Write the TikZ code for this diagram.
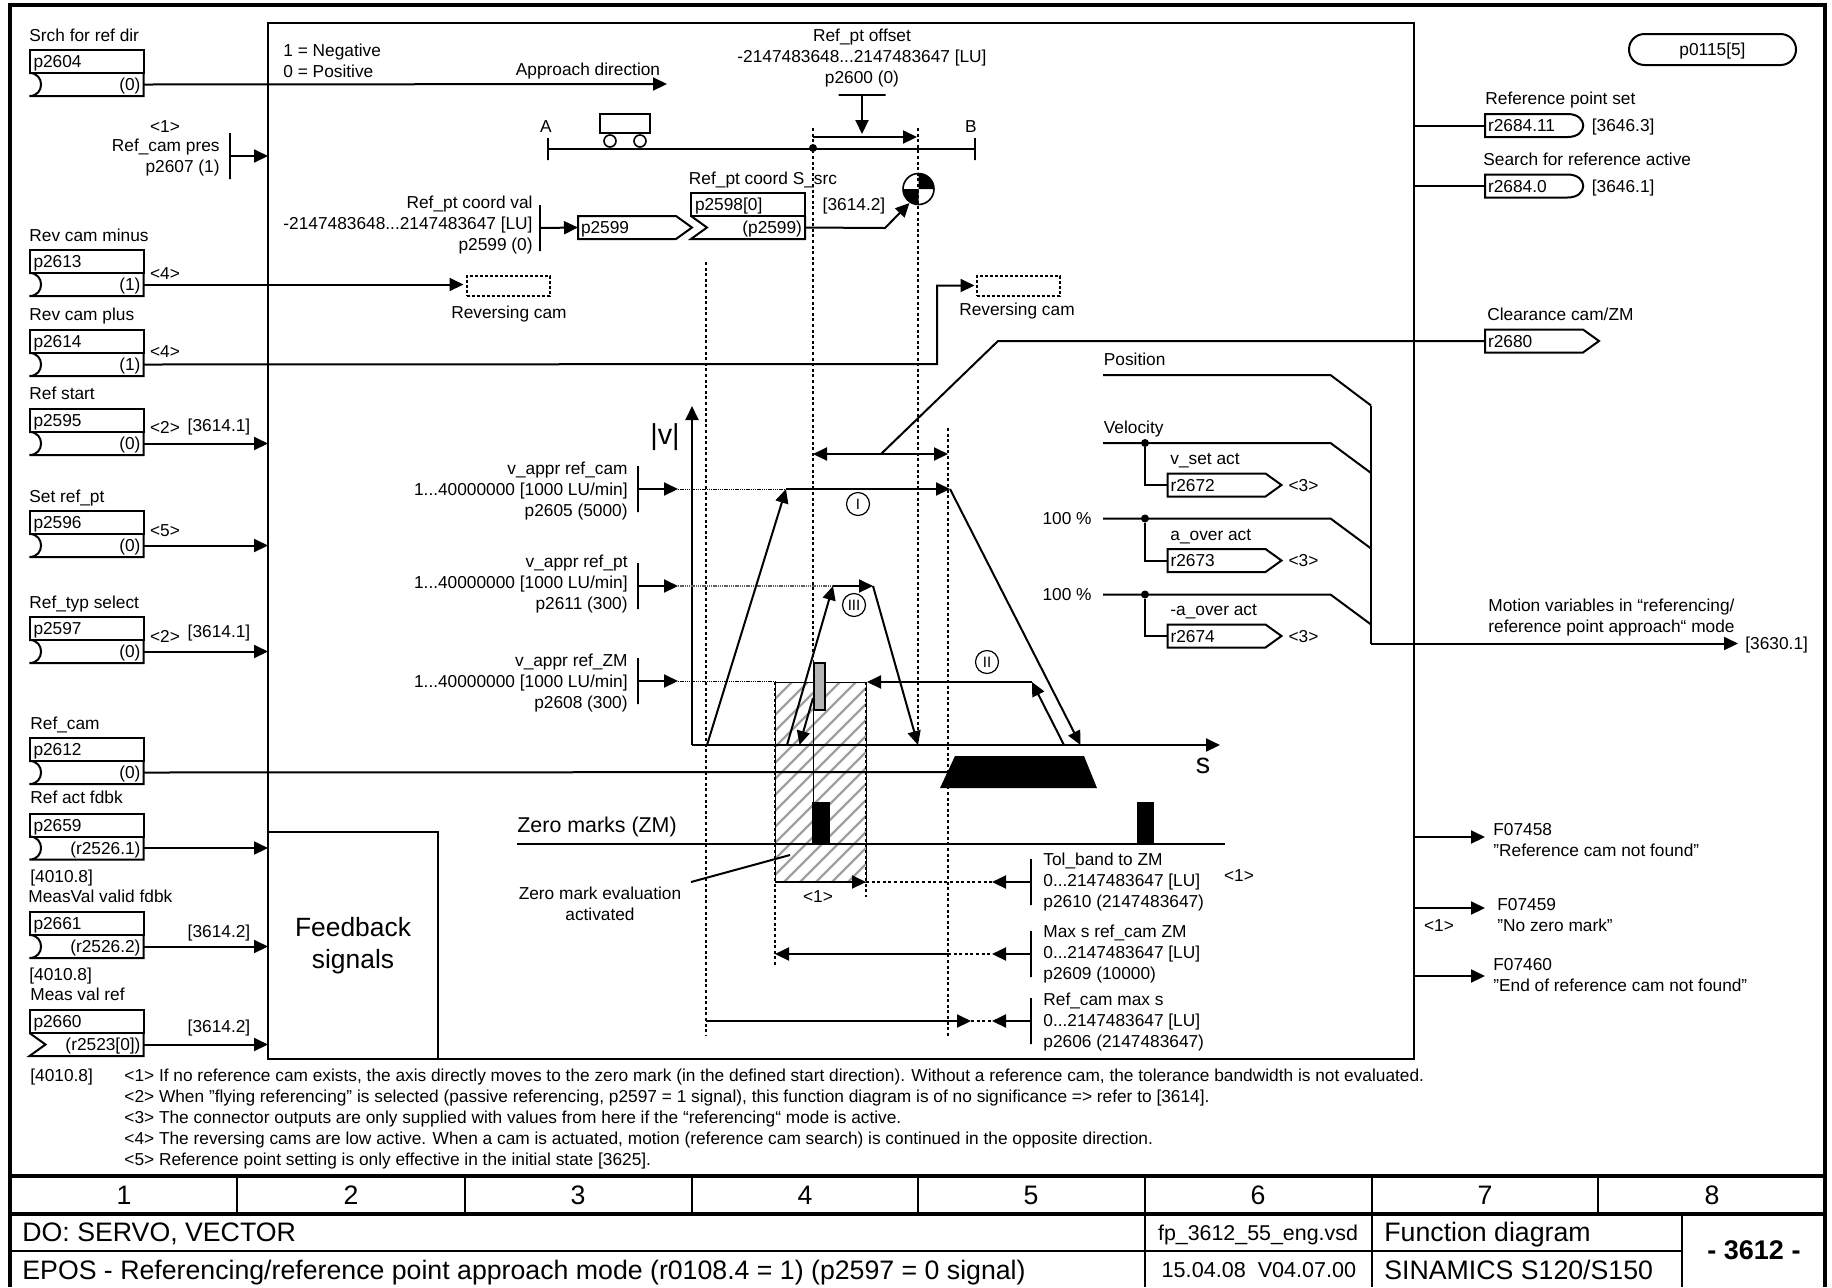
\documentclass[tikz,border=0pt]{standalone}
\usepackage{fontspec}
\setmainfont{Liberation Sans}
\usetikzlibrary{arrows.meta, positioning, calc}
\definecolor{hatchGray}{HTML}{A0A0A0}
\definecolor{barGray}{HTML}{B4B4B4}
\newcommand{\lblfont}{\fontsize{8.65}{10.5}\selectfont}
\newcommand{\inround}[1]{\draw[sig] (#1.north east) -- (#1.south east) -- (#1.south west)
  .. controls ([xshift=7.7pt]#1.south west) and ([xshift=7.7pt]#1.north west) .. (#1.north west);}
\newcommand{\inchev}[1]{\draw[sig] (#1.north east) -- (#1.south east) -- (#1.south west)
  -- ([xshift=8pt]#1.west) -- (#1.north west);}
\newcommand{\outsig}[1]{\draw[sig] (#1.south west) -- (#1.north west) -- ([xshift=-8pt]#1.north east)
  -- (#1.east) -- ([xshift=-8pt]#1.south east) -- cycle;}
\newcommand{\outcam}[1]{\draw[sig] (#1.south west) -- (#1.north west) -- ([xshift=-8pt]#1.north east)
  .. controls ([xshift=2.5pt]#1.north east) and ([xshift=2.5pt]#1.south east) .. ([xshift=-8pt]#1.south east) -- cycle;}
\tikzset{
  fp/.style = {font=\lblfont, x=0.5pt, y=-0.5pt},
  lbl/.style = {inner sep=0pt, text height=6.2pt, text depth=0pt},
  lbll/.style = {lbl, anchor=west},
  lblr/.style = {lbl, anchor=east},
  multir/.style = {inner sep=0pt, anchor=east, align=right},
  multil/.style = {inner sep=0pt, anchor=west, align=left},
  multic/.style = {inner sep=0pt, align=center},
  pbox/.style = {rectangle, draw, line width=1pt, minimum width=57pt, minimum height=11.5pt,
    inner xsep=2pt, inner ysep=0pt, text width=53pt, align=left, anchor=north west,
    text height=6.2pt, text depth=0pt, outer sep=0pt},
  pval/.style = {pbox, draw=none, align=right, inner xsep=1.5pt, text width=54pt},
  obox/.style = {rectangle, minimum width=57pt, minimum height=11.5pt, inner xsep=1.5pt, inner ysep=0pt,
    text width=54pt, align=left, anchor=west, text height=6.2pt, text depth=0pt, outer sep=0pt},
  ebox/.style = {obox, minimum width=49.25pt, text width=46.25pt},
  dashbox/.style = {rectangle, draw, line width=1pt, dash pattern=on 1.5pt off 1pt,
    minimum width=41.5pt, minimum height=10pt, inner sep=0pt, outer sep=0pt},
  frame/.style = {rectangle, draw, line width=1pt, inner sep=0pt, outer sep=0pt},
  tbar/.style = {rectangle, draw, line width=1pt, minimum width=0pt, minimum height=23pt, inner sep=0pt, outer sep=0pt},
  hbar/.style = {tbar, minimum width=23.5pt, minimum height=0pt},
  dotnode/.style = {circle, fill=black, minimum size=4pt, inner sep=0pt, outer sep=0pt},
  circ/.style = {circle, draw, line width=0.6pt, minimum size=11.5pt, inner sep=0pt, font=\fontsize{7.5}{8}\selectfont},
  sig/.style = {line width=1pt},
  thinl/.style = {line width=0.5pt},
  arr/.style = {sig, -{Triangle[length=7pt,width=6.5pt]}},
  darr/.style = {sig, {Triangle[length=7pt,width=6.5pt]}-{Triangle[length=7pt,width=6.5pt]}},
  guide/.style = {line width=0.8pt, dash pattern=on 1.5pt off 1.3pt},
  fine/.style = {line width=0.45pt, dash pattern=on 0.7pt off 0.4pt},
  tabl/.style = {line width=1.3pt},
  tabr/.style = {line width=2pt},
  tabt/.style = {inner sep=0pt, font=\fontsize{13.35}{15}\selectfont, text height=9.5pt, text depth=0pt},
  big/.style = {inner sep=0pt, font=\fontsize{14.4}{16}\selectfont},
}

\begin{document}
\begin{tikzpicture}[fp]
\useasboundingbox (0,0) rectangle (1832,1287);

% frame and title block
\draw[line width=1.6pt] (10,1287) -- (10,5) -- (1825,5) -- (1825,1287);
\draw[tabr] (10,1176) -- (1825,1176);
\draw[tabr] (10,1214) -- (1825,1214);
\draw[tabl] (10,1251) -- (1682,1251);
\draw[tabl] (237,1176) -- (237,1214);
\draw[tabl] (465,1176) -- (465,1214);
\draw[tabl] (692,1176) -- (692,1214);
\draw[tabl] (918,1176) -- (918,1214);
\draw[tabl] (1145,1176) -- (1145,1287);
\draw[tabl] (1372,1176) -- (1372,1287);
\draw[tabl] (1598,1176) -- (1598,1214);
\draw[tabl] (1682,1214) -- (1682,1287);
\node[tabt] (col1) at (124,1195) {1};
\node[tabt] (col2) at (351,1195) {2};
\node[tabt] (col3) at (578,1195) {3};
\node[tabt] (col4) at (805,1195) {4};
\node[tabt] (col5) at (1031,1195) {5};
\node[tabt] (col6) at (1258,1195) {6};
\node[tabt] (col7) at (1485,1195) {7};
\node[tabt] (col8) at (1712,1195) {8};
\node[tabt, anchor=west] (tdo) at (22,1232) {DO: SERVO, VECTOR};
\node[tabt, anchor=west] (tepos) at (22,1270) {EPOS - Referencing/reference point approach mode (r0108.4 = 1) (p2597 = 0 signal)};
\node[tabt, anchor=west] (tfn) at (1384,1232) {Function diagram};
\node[tabt, anchor=west] (tsin) at (1384,1270) {SINAMICS S120/S150};
\node[lbl, font=\fontsize{10.7}{12}\selectfont] (tfile) at (1258,1234) {fp\_3612\_55\_eng.vsd};
\node[lbl, font=\fontsize{10.8}{12}\selectfont] (tver) at (1259,1271) {15.04.08\ \ V04.07.00};
\node[lbl, font=\fontsize{13.5}{14}\selectfont\bfseries, text height=9.5pt] (tnum) at (1754,1250) {- 3612 -};

% main blocks
\node[frame, anchor=north west, minimum width=573pt, minimum height=518pt] (main) at (268,23) {};
\node[frame, anchor=south west, minimum width=85pt, minimum height=113.5pt, align=center,
  font=\fontsize{13.2}{16.3}\selectfont] (fdbk) at (268,1059) {Feedback\\signals};

% hatched window
\begin{scope}
  \clip (775,682) rectangle (866,882);
  \foreach \hx in {560,576,...,860}
    \draw[hatchGray, line width=1.2pt] (\hx,882) -- (\hx+200,682);
\end{scope}
\draw[thinl] (775,682) rectangle (866,882);

% guide lines
\draw[guide] (813,128) -- (813,660);
\draw[thinl] (813,660) -- (813,802);
\draw[guide] (918,128) -- (918,745);
\draw[guide] (706,262) -- (706,1036);
\draw[guide] (948,428) -- (948,1036);
\draw[guide] (775,682) -- (775,966);
\draw[guide] (866,682) -- (866,897);

% input parameters
\node[lbll] (lsrch) at (29,35) {Srch for ref dir};
\node[pbox] (p2604) at (29.5,50) {p2604};
\node[pval] (p2604v) at (p2604.south west) {(0)};
\inround{p2604v}
\node[lbll] (lminus) at (29,235) {Rev cam minus};
\node[pbox] (p2613) at (29.5,250) {p2613};
\node[pval] (p2613v) at (p2613.south west) {(1)};
\inround{p2613v}
\node[lbll] (lplus) at (29,314) {Rev cam plus};
\node[pbox] (p2614) at (29.5,330) {p2614};
\node[pval] (p2614v) at (p2614.south west) {(1)};
\inround{p2614v}
\node[lbll] (lstart) at (29,393) {Ref start};
\node[pbox] (p2595) at (29.5,409) {p2595};
\node[pval] (p2595v) at (p2595.south west) {(0)};
\inround{p2595v}
\node[lbll] (lset) at (29,496) {Set ref\_pt};
\node[pbox] (p2596) at (29.5,511) {p2596};
\node[pval] (p2596v) at (p2596.south west) {(0)};
\inround{p2596v}
\node[lbll] (ltyp) at (29,602) {Ref\_typ select};
\node[pbox] (p2597) at (29.5,617) {p2597};
\node[pval] (p2597v) at (p2597.south west) {(0)};
\inround{p2597v}
\node[lbll] (lcam) at (30,723) {Ref\_cam};
\node[pbox] (p2612) at (29.5,738) {p2612};
\node[pval] (p2612v) at (p2612.south west) {(0)};
\inround{p2612v}
\node[lbll] (lact) at (30,797) {Ref act fdbk};
\node[pbox] (p2659) at (29.5,813.5) {p2659};
\node[pval] (p2659v) at (p2659.south west) {(r2526.1)};
\inround{p2659v}
\node[lbll] (lref1) at (30,876) {[4010.8]};
\node[lbll] (lvalid) at (28,896) {MeasVal valid fdbk};
\node[pbox] (p2661) at (29.5,912) {p2661};
\node[pval] (p2661v) at (p2661.south west) {(r2526.2)};
\inround{p2661v}
\node[lbll] (lref2) at (29,974) {[4010.8]};
\node[lbll] (lmeas) at (30,994) {Meas val ref};
\node[pbox] (p2660) at (29.5,1010) {p2660};
\node[pval] (p2660v) at (p2660.south west) {(r2523[0])};
\inchev{p2660v}
\node[lbll] (lref3) at (30,1075) {[4010.8]};

% side marks
\node[lbl] (n1a) at (165,126) {<1>};
\node[multir] (l2607) at (220,158) {Ref\_cam pres\\p2607 (1)};
\node[tbar] (bar2607) at (230,156) {};
\node[lbl] (n4a) at (165,273) {<4>};
\node[lbl] (n4b) at (165,351) {<4>};
\node[lbl] (n2a) at (165,427) {<2>};
\node[lbl] (x1a) at (219,425) {[3614.1]};
\node[lbl] (n5a) at (165,530) {<5>};
\node[lbl] (n2b) at (165,636) {<2>};
\node[lbl] (x1b) at (219,631) {[3614.1]};
\node[lbl] (x2a) at (219,931) {[3614.2]};
\node[lbl] (x2b) at (219,1026) {[3614.2]};

\draw[arr] (p2604v.east) -- (667,84) coordinate (dirtip);
\draw[arr] (bar2607) -- (bar2607 -| main.west);
\draw[arr] (p2595v.east) -- (p2595v.east -| main.west);
\draw[arr] (p2596v.east) -- (p2596v.east -| main.west);
\draw[arr] (p2597v.east) -- (p2597v.east -| main.west);
\draw[arr] (p2659v.east) -- (p2659v.east -| fdbk.west);
\draw[arr] (p2661v.east) -- (p2661v.east -| fdbk.west);
\draw[arr] (p2660v.east) -- (p2660v.east -| fdbk.west);

% direction and axis
\node[lbll] (lneg) at (283,50) {1 = Negative};
\node[lbll] (lpos) at (283,71) {0 = Positive};
\node[lbl] (ldir) at (588,69) {Approach direction};
\node[lbl] (la) at (546,126) {A};
\node[lbl] (lb) at (971,126) {B};
\node[tbar, minimum height=11pt] (axA) at (548,149) {};
\node[tbar, minimum height=11pt] (axB) at (975,149) {};
\draw[sig] (axA) -- (axB);
\node[dotnode] (zeropt) at (813,148) {};
\node[frame] (cart) [anchor=north west, minimum width=25pt, minimum height=9.5pt] at (600,114) {};
\node[circle, draw, line width=.8pt, minimum size=6pt, inner sep=0pt] (whl) at (610,141) {};
\node[circle, draw, line width=.8pt, minimum size=6pt, inner sep=0pt] (whr) at (640,141) {};

% offset
\node[multic] (loff) at (862,58) {Ref\_pt offset\\-2147483648...2147483647 [LU]\\p2600 (0)};
\node[hbar] (bar2600) at (862,95) {};
\coordinate (offtip) at (862,134);
\draw[arr] (bar2600) -- (offtip);
\coordinate (offa) at (813,137);
\coordinate (offb) at (917,137);
\draw[arr] (offa) -- (offb);

% reference point coordinate
\node[multir] (l2599) at (533,225) {Ref\_pt coord val\\-2147483648...2147483647 [LU]\\p2599 (0)};
\node[tbar] (bar2599) at (540,228) {};
\node[obox] (p2599) at (578,227.5) {p2599};
\outsig{p2599}
\draw[arr] (bar2599) -- (p2599.west);
\node[lbl] (lsrc) at (763,178) {Ref\_pt coord S\_src};
\node[pbox] (p2598) at (691,193) {p2598[0]};
\node[pval] (p2598v) at (p2598.south west) {(p2599)};
\inchev{p2598v}
\node[lbl] (x2c) at (854,204) {[3614.2]};
\node[circle, draw, line width=.8pt, minimum size=15.5pt, inner sep=0pt, outer sep=0pt] (refpt) at (918.5,189) {};
\fill (refpt.center) -- (refpt.north) to[out=0, in=90] (refpt.east) -- cycle;
\fill (refpt.center) -- (refpt.south) to[out=180, in=270] (refpt.west) -- cycle;
\coordinate (refknee) at (885,228);
\coordinate (reftip) at (909.5,203);
\draw[arr] (p2598v.east) -- (refknee) -- (reftip);

% reversing cams
\node[dashbox, anchor=north west] (rcam1) at (466.5,275.5) {};
\node[dashbox, anchor=north west] (rcam2) at (976.5,275.5) {};
\node[lbl] (lrc1) at (509,312) {Reversing cam};
\node[lbl] (lrc2) at (1017,309) {Reversing cam};
\draw[arr, shorten >=1.5pt] (p2613v.east) -- (p2613v.east -| rcam1.west);
\coordinate (rcknee) at (937,364);
\draw[arr, shorten >=1pt] (p2614v.east) -- (rcknee) |- (rcam2.west);

% velocity axes
\node[big, text height=11pt, text depth=3pt] (lv) at (665,436) {|v|};
\node[big, text height=7pt, text depth=0pt] (ls) at (1203,766) {s};
\coordinate (org) at (692,745);
\draw[arr] (org) -- (692,406);
\draw[arr] (org) -- (1220,745);

% approach speeds
\node[multir] (l2605) at (628,491) {v\_appr ref\_cam\\1...40000000 [1000 LU/min]\\p2605 (5000)};
\node[multir] (l2611) at (628,584) {v\_appr ref\_pt\\1...40000000 [1000 LU/min]\\p2611 (300)};
\node[multir] (l2608) at (628,683) {v\_appr ref\_ZM\\1...40000000 [1000 LU/min]\\p2608 (300)};
\node[tbar] (bar2605) at (638,489) {};
\node[tbar] (bar2611) at (638,586) {};
\node[tbar] (bar2608) at (638,681) {};
\coordinate (v1tip) at (678,489);
\coordinate (v3tip) at (678,586);
\coordinate (v2tip) at (678,681);
\draw[arr] (bar2605) -- (v1tip);
\draw[arr] (bar2611) -- (v3tip);
\draw[arr] (bar2608) -- (v2tip);
\coordinate (v1a) at (786,489);
\coordinate (v3a) at (833,586);
\draw[fine] (v1tip) -- (v1a);
\draw[fine, hatchGray!60!black, line width=0.7pt] (v3tip) -- (v3a);
\draw[fine] (v2tip) -- (775,681);
\node[rectangle, draw, line width=.8pt, fill=barGray, minimum width=5.5pt, minimum height=23.5pt,
  inner sep=0pt, anchor=north west] (zmbar) at (813,662) {};

% traces
\coordinate (st1) at (707,745);
\coordinate (v1b) at (950,489);
\coordinate (en1) at (1080.5,745);
\draw[arr] (st1) -- (v1a);
\draw[arr] (v1a) -- (v1b);
\draw[arr] (v1b) -- (en1);
\coordinate (st3) at (787,745);
\coordinate (v3b) at (873,586);
\coordinate (en3) at (918,745);
\draw[arr] (st3) -- (v3a);
\draw[arr] (v3a) -- (v3b);
\draw[arr] (v3b) -- (en3);
\coordinate (bk3) at (813,698);
\coordinate (bk3e) at (799.5,745);
\draw[arr] (bk3) -- (bk3e);
\coordinate (st2) at (1064,745);
\coordinate (v2a) at (1032,682);
\coordinate (v2b) at (867,682);
\draw[arr] (st2) -- (v2a);
\draw[arr] (v2a) -- (v2b);
\node[circ] (cI) at (858,504) {I};
\node[circ] (cIII) at (854,605) {III};
\node[circ] (cII) at (987,662) {II};

% clearance window
\coordinate (clra) at (813,454);
\coordinate (clrb) at (948,454);
\draw[darr] (clra) -- (clrb);
\coordinate (clrm) at (881,454);
\coordinate (clrk) at (998,341);
\node[obox] (r2680) at (1485,341) {r2680};
\outsig{r2680}
\node[lbll] (lclr) at (1487,314) {Clearance cam/ZM};
\draw[sig] (clrm) -- (clrk) -- (r2680.west);

% reference cam
\coordinate (camm) at (950,772);
\draw[sig] (p2612v.east) -- (camm);
\fill (955,756) -- (1084,756) -- (1097,788) -- (940,788) -- cycle;

% zero marks
\node[lbll, font=\fontsize{10.7}{12}\selectfont, text height=7.7pt, text depth=2pt] (lzm) at (517,827) {Zero marks (ZM)};
\coordinate (zma) at (517,844);
\coordinate (zmb) at (1225,844);
\draw[sig] (zma) -- (zmb);
\fill (812,802) rectangle (830,844);
\fill (1136.5,802) rectangle (1154,844);
\node[multic] (lzme) at (600,904) {Zero mark evaluation\\activated};
\coordinate (zmea) at (691,882);
\coordinate (zmeb) at (790,855);
\draw[sig] (zmea) -- (zmeb);
\node[lbl] (n1b) at (818,896) {<1>};

% monitoring windows
\node[multil] (l2610) at (1043,882) {Tol\_band to ZM\\0...2147483647 [LU]\\p2610 (2147483647)};
\node[multil] (l2609) at (1043,954) {Max s ref\_cam ZM\\0...2147483647 [LU]\\p2609 (10000)};
\node[multil] (l2606) at (1043,1022) {Ref\_cam max s\\0...2147483647 [LU]\\p2606 (2147483647)};
\node[tbar] (bar2610) at (1031,882) {};
\node[tbar] (bar2609) at (1031,954) {};
\node[tbar] (bar2606) at (1031,1021) {};
\node[lbl] (n1c) at (1239,875) {<1>};
\coordinate (tipa) at (992,882);
\coordinate (tipb) at (992,954);
\coordinate (tipc) at (992,1021);
\draw[arr] (bar2610) -- (tipa);
\draw[arr] (bar2609) -- (tipb);
\draw[arr] (bar2606) -- (tipc);
\coordinate (tola) at (775,882);
\coordinate (tolb) at (866,882);
\draw[arr] (tola) -- (tolb);
\draw[guide] (tolb) -- (tipa);
\coordinate (maxa) at (948,954);
\coordinate (maxb) at (775,954);
\draw[arr] (maxa) -- (maxb);
\draw[guide] (maxa) -- (tipb);
\coordinate (cama) at (706,1021);
\coordinate (camb) at (971,1021);
\draw[arr] (cama) -- (camb);
\draw[guide] (camb) -- (tipc);

% status outputs
\node[obox, rectangle, draw, line width=1pt, minimum width=83.5pt, minimum height=15.5pt, rounded corners=7.7pt,
  anchor=north west, align=center, text width=70pt] (p0115) at (1629,34) {p0115[5]};
\node[lbll] (lset2) at (1485,98) {Reference point set};
\node[ebox] (r268411) at (1485,125.5) {r2684.11};
\outcam{r268411}
\node[lbll] (x3a) at (1591.5,125.5) {[3646.3]};
\draw[sig] (r268411.west -| main.east) -- (r268411.west);
\node[lbll] (lactive) at (1483,159) {Search for reference active};
\node[ebox] (r26840) at (1485,186) {r2684.0};
\outcam{r26840}
\node[lbll] (x3b) at (1591.5,186) {[3646.1]};
\draw[sig] (r26840.west -| main.east) -- (r26840.west);

% motion bus
\node[lbll] (lpos2) at (1103.5,359) {Position};
\node[lbll] (lvel) at (1103.5,427) {Velocity};
\node[lblr] (lpc1) at (1092,518.5) {100 \%};
\node[lblr] (lpc2) at (1092,594.5) {100 \%};
\coordinate (bustop) at (1371,405.5);
\coordinate (buspos) at (1103,375);
\coordinate (buskpos) at (1330.5,375);
\draw[sig] (buspos) -- (buskpos) -- (bustop);
\coordinate (busvel) at (1103,443);
\coordinate (buskvel) at (1330.5,443);
\coordinate (busjv) at (1371,473);
\draw[sig] (busvel) -- (buskvel) -- (busjv);
\coordinate (busa1) at (1103,518.5);
\coordinate (buska1) at (1330.5,518.5);
\coordinate (busj1) at (1371,548.5);
\draw[sig] (busa1) -- (buska1) -- (busj1);
\coordinate (busa2) at (1103,594.5);
\coordinate (buska2) at (1330.5,594.5);
\coordinate (busj2) at (1371,624.5);
\draw[sig] (busa2) -- (buska2) -- (busj2);
\coordinate (busbot) at (1371,643.5);
\node[lbll] (x4) at (1745,643.5) {[3630.1]};
\coordinate (bustip) at (1738,643.5);
\draw[sig] (bustop) -- (busbot);
\draw[arr] (busbot) -- (bustip);
\node[multil] (lmot) at (1488,618) {Motion variables in “referencing/\\reference point approach“ mode};

\node[dotnode] (dvel) at (1145,443) {};
\node[dotnode] (da1) at (1145,518.5) {};
\node[dotnode] (da2) at (1145,594.5) {};
\node[lbll] (lvset) at (1170,458) {v\_set act};
\node[obox] (r2672) at (1167.5,485) {r2672};
\outsig{r2672}
\node[lbl] (n3a) at (1303.5,485) {<3>};
\node[lbll] (laov) at (1170,534) {a\_over act};
\node[obox] (r2673) at (1167.5,560.5) {r2673};
\outsig{r2673}
\node[lbl] (n3b) at (1303.5,560.5) {<3>};
\node[lbll] (lnaov) at (1170,609) {-a\_over act};
\node[obox] (r2674) at (1167.5,636) {r2674};
\outsig{r2674}
\node[lbl] (n3c) at (1303.5,636) {<3>};
\draw[sig] (dvel) |- (r2672.west);
\draw[sig] (da1) |- (r2673.west);
\draw[sig] (da2) |- (r2674.west);

% faults
\node[multil] (f58) at (1493,840) {F07458\\"Reference cam not found"};
\node[multil] (f59) at (1497,915) {F07459\\"No zero mark"};
\node[multil] (f60) at (1493,975.5) {F07460\\"End of reference cam not found"};
\node[lbl] (n1d) at (1439,925) {<1>};
\coordinate (ftip1) at (1485,837);
\coordinate (ftip2) at (1485,908);
\coordinate (ftip3) at (1485,976);
\draw[arr] (ftip1 -| main.east) -- (ftip1);
\draw[arr] (ftip2 -| main.east) -- (ftip2);
\draw[arr] (ftip3 -| main.east) -- (ftip3);

% notes
\node[lbll] (note1) at (124,1075) {<1> If no reference cam exists, the axis directly moves to the zero mark (in the defined start direction). Without a reference cam, the tolerance bandwidth is not evaluated.};
\node[lbll] (note2) at (124,1096) {<2> When "flying referencing" is selected (passive referencing, p2597 = 1 signal), this function diagram is of no significance => refer to [3614].};
\node[lbll] (note3) at (124,1117) {<3> The connector outputs are only supplied with values from here if the “referencing“ mode is active.};
\node[lbll] (note4) at (124,1138) {<4> The reversing cams are low active. When a cam is actuated, motion (reference cam search) is continued in the opposite direction.};
\node[lbll] (note5) at (124,1159) {<5> Reference point setting is only effective in the initial state [3625].};

\end{tikzpicture}
\end{document}
